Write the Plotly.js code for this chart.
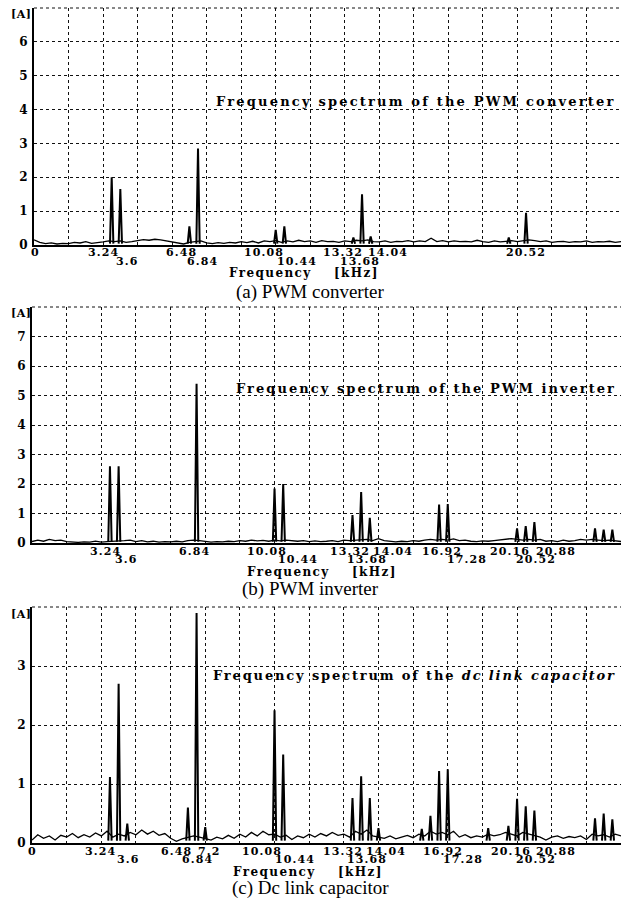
<!DOCTYPE html>
<html><head><meta charset="utf-8">
<script src="https://cdn.plot.ly/plotly-3.0.1.min.js"></script>
<style>html,body{margin:0;padding:0;background:#fff;} #chart{width:621px;height:903px;}</style>
</head><body><div id="chart"></div>
<script>
// ---------------- DATA ----------------
const noiseFreq = [
 0,0.24,0.48,0.72,0.96,1.2,1.44,1.68,1.92,2.16,
 2.4,2.64,2.88,3.12,3.36,3.6,3.84,4.08,4.32,4.56,
 4.8,5.04,5.28,5.52,5.76,6,6.24,6.48,6.72,6.96,
 7.2,7.44,7.68,7.92,8.16,8.4,8.64,8.88,9.12,9.36,
 9.6,9.84,10.08,10.32,10.56,10.8,11.04,11.28,11.52,11.76,
 12,12.24,12.48,12.72,12.96,13.2,13.44,13.68,13.92,14.16,
 14.4,14.64,14.88,15.12,15.36,15.6,15.84,16.08,16.32,16.56,
 16.8,17.04,17.28,17.52,17.76,18,18.24,18.48,18.72,18.96,
 19.2,19.44,19.68,19.92,20.16,20.4,20.64,20.88,21.12,21.36,
 21.6,21.84,22.08,22.32,22.56,22.8,23.04,23.28,23.52,23.76,
 24,24.24,24.48];

const noiseA = [
 0.15,0.08,0.04,0.06,0.03,0.05,0.04,0.08,0.06,0.10,
 0.05,0.06,0.09,0.12,0.10,0.12,0.08,0.10,0.13,0.16,
 0.14,0.17,0.15,0.12,0.09,0.04,0.03,0.08,0.10,0.12,
 0.06,0.04,0.07,0.05,0.08,0.06,0.10,0.07,0.11,0.06,
 0.12,0.10,0.13,0.08,0.12,0.09,0.14,0.10,0.12,0.08,
 0.13,0.10,0.11,0.08,0.12,0.10,0.14,0.12,0.15,0.10,
 0.09,0.12,0.08,0.11,0.10,0.13,0.09,0.12,0.10,0.20,
 0.10,0.13,0.09,0.12,0.10,0.11,0.09,0.14,0.10,0.08,
 0.12,0.09,0.11,0.13,0.10,0.12,0.15,0.13,0.10,0.12,
 0.08,0.10,0.11,0.08,0.10,0.09,0.12,0.08,0.10,0.09,
 0.11,0.08,0.10];
const noiseB = [
 0.05,0.10,0.06,0.12,0.08,0.10,0.05,0.03,0.02,0.04,
 0.03,0.06,0.03,0.05,0.06,0.05,0.08,0.10,0.05,0.08,
 0.04,0.06,0.03,0.05,0.04,0.06,0.04,0.08,0.10,0.08,
 0.05,0.03,0.05,0.04,0.06,0.05,0.08,0.06,0.10,0.07,
 0.09,0.06,0.10,0.07,0.10,0.08,0.06,0.08,0.05,0.07,
 0.05,0.06,0.08,0.05,0.10,0.08,0.10,0.10,0.12,0.08,
 0.15,0.08,0.05,0.04,0.06,0.05,0.08,0.06,0.10,0.12,
 0.10,0.12,0.10,0.14,0.08,0.10,0.06,0.05,0.07,0.06,
 0.08,0.10,0.12,0.15,0.12,0.10,0.12,0.10,0.12,0.06,
 0.08,0.05,0.10,0.06,0.08,0.12,0.10,0.12,0.10,0.08,
 0.10,0.08,0.05];
const noiseC = [
 0.05,0.14,0.08,0.12,0.05,0.13,0.10,0.16,0.09,0.14,
 0.10,0.17,0.12,0.20,0.10,0.15,0.12,0.18,0.14,0.22,
 0.15,0.20,0.13,0.16,0.08,0.03,0.07,0.10,0.12,0.10,
 0.08,0.05,0.10,0.07,0.13,0.08,0.15,0.10,0.18,0.12,
 0.20,0.14,0.15,0.10,0.13,0.06,0.12,0.09,0.15,0.10,
 0.16,0.12,0.18,0.13,0.15,0.10,0.20,0.15,0.22,0.12,
 0.10,0.08,0.12,0.07,0.10,0.13,0.09,0.15,0.12,0.20,
 0.15,0.18,0.14,0.20,0.10,0.14,0.09,0.12,0.10,0.15,
 0.12,0.14,0.18,0.15,0.12,0.18,0.15,0.12,0.10,0.05,
 0.10,0.12,0.08,0.11,0.09,0.12,0.06,0.15,0.12,0.14,
 0.10,0.15,0.12];

const peakFreqA = [3.24,3.6,6.48,6.84,10.08,10.44,13.32,13.68,14.04,19.8,20.52];
const peakAmpA  = [2.0,1.65,0.55,2.85,0.45,0.55,0.22,1.5,0.25,0.22,0.95];
const peakFreqB = [3.24,3.6,6.84,10.08,10.44,13.32,13.68,14.04,16.92,17.28,20.16,20.52,20.88,23.4,23.76,24.12];
const peakAmpB  = [2.6,2.6,5.4,1.85,2.0,0.95,1.73,0.85,1.3,1.32,0.5,0.57,0.71,0.5,0.45,0.45];
const peakFreqC = [3.24,3.6,3.96,6.48,6.84,7.2,10.08,10.44,13.32,13.68,14.04,14.4,16.2,16.56,16.92,17.28,18.96,19.8,20.16,20.52,20.88,23.4,23.76,24.12];
const peakAmpC  = [1.12,2.7,0.33,0.6,3.9,0.27,2.25,1.5,0.76,1.13,0.76,0.25,0.24,0.46,1.22,1.25,0.25,0.29,0.75,0.62,0.55,0.42,0.5,0.4];

const tickLabelsA = ['0','3.24','3.6','6.48','6.84','10.08','10.44','13.32','13.68','14.04','20.52'];
const tickRowsA   = [0,0,1,0,1,0,1,0,1,0,0];
const tickLabelsB = ['3.24','3.6','6.84','10.08','10.44','13.32','13.68','14.04','16.92','17.28','20.16','20.52','20.88'];
const tickRowsB   = [0,1,0,0,1,0,1,0,0,1,0,1,0];
const tickLabelsC = ['0','3.24','3.6','6.48','6.84','7.2','10.08','10.44','13.32','13.68','14.04','16.92','17.28','20.16','20.52','20.88'];
const tickRowsC   = [0,0,1,0,1,0,0,1,0,1,0,0,1,0,1,0];

const yMax = [7, 8, 4];
const panelTitles = ['Frequency spectrum of the PWM converter',
                     'Frequency spectrum of the PWM inverter',
                     'Frequency spectrum of the <i>dc link capacitor</i>'];
const captions = ['(a) PWM converter', '(b) PWM inverter', '(c) Dc link capacitor'];
const xTitle = 'Frequency\u00a0\u00a0\u00a0\u00a0[kHz]';
const yUnit = '[A]';
const xMax = 24.48;
const gridStep = 1.44;

// ---------------- STYLE / LAYOUT ----------------
const W = 621, H = 903;
const panels = [
  {noise: noiseA, pf: peakFreqA, pa: peakAmpA, tl: tickLabelsA, tr: tickRowsA,
   shift: [1,-8,7,-8,4,-12,13,-10,-2,17,0]},
  {noise: noiseB, pf: peakFreqB, pa: peakAmpB, tl: tickLabelsB, tr: tickRowsB,
   shift: [-4,7,-2,-8,15,-2,6,23,3,19,-7,10,22]},
  {noise: noiseC, pf: peakFreqC, pa: peakAmpC, tl: tickLabelsC, tr: tickRowsC,
   shift: [0,-9,9,-11,1,4,-13,12,-9,6,16,4,15,-6,10,22]}
];
const geo = [
  {x0:34, y0:245, top:8,   titleY:101, rows:[252,261], freqY:273, freqX:304, capY:292, aY:14,  tls:2.2},
  {x0:32, y0:543, top:307, titleY:388, rows:[551,559], freqY:572, freqX:322, capY:589, aY:313, tls:2.05},
  {x0:32, y0:843, top:607, titleY:675, rows:[851,859], freqY:872, freqX:308, capY:888, aY:614, tls:1.85}
];
const boldSerif = 'DejaVu Serif';
const ls = (t, px) => '<span style="letter-spacing:' + px + 'px"><b>' + t + '</b></span>';

const data = [];
const layout = {
  width: W, height: H, margin: {l:0, r:0, t:0, b:0},
  paper_bgcolor: '#fff', plot_bgcolor: '#fff', showlegend: false,
  annotations: [], shapes: []
};

panels.forEach((p, i) => {
  const g = geo[i];
  const xa = 'x' + (i ? i + 1 : ''), ya = 'y' + (i ? i + 1 : '');
  const xk = 'xaxis' + (i ? i + 1 : ''), yk = 'yaxis' + (i ? i + 1 : '');
  // noise line
  data.push({type:'scatter', mode:'lines', x: noiseFreq, y: p.noise, xaxis: xa, yaxis: ya,
             line:{color:'#000', width:1.3}, hoverinfo:'skip'});
  // spikes
  const sx = [], sy = [];
  p.pf.forEach((f, k) => { sx.push(f - 0.07, f, f + 0.07, null); sy.push(0.04, p.pa[k], 0.04, null); });
  data.push({type:'scatter', mode:'lines', x: sx, y: sy, xaxis: xa, yaxis: ya,
             line:{color:'#000', width:2}, hoverinfo:'skip'});

  const tv = [], tt = [];
  for (let v = 0; v <= yMax[i]; v++) { tv.push(v); tt.push(v < yMax[i] ? '<b>' + v + '</b>' : ''); }

  layout[xk] = {domain:[g.x0 / W, 1], range:[0, xMax], anchor: ya, tick0:0, dtick:gridStep,
    showticklabels:false, ticks:'', showgrid:true, griddash:'dot', gridcolor:'#111', gridwidth:1,
    showline:true, linecolor:'#000', linewidth:1.5, zeroline:false, fixedrange:true};
  layout[yk] = {domain:[1 - g.y0 / H, 1 - g.top / H], range:[0, yMax[i]], anchor: xa,
    tickmode:'array', tickvals: tv, ticktext: tt, ticks:'', ticklabelstandoff:2,
    tickfont:{family: boldSerif, size:12, color:'#000'},
    showgrid:true, griddash:'dot', gridcolor:'#111', gridwidth:1,
    showline:true, linecolor:'#000', linewidth:2, zeroline:false, fixedrange:true};

  // top dotted border
  layout.shapes.push({type:'line', xref: xa + ' domain', yref: ya + ' domain', x0:0, x1:1, y0:1, y1:1,
    line:{color:'#111', width:1, dash:'dot'}});

  // x tick labels (staggered)
  p.tl.forEach((t, k) => {
    layout.annotations.push({xref: xa, yref:'paper', x: parseFloat(t), y: 1 - g.rows[p.tr[k]] / H,
      xanchor:'center', yanchor:'middle', xshift: p.shift[k], showarrow:false,
      text: ls(t, 1.1), font:{family: boldSerif, size:11, color:'#000'}});
  });
  // x title
  layout.annotations.push({xref:'paper', yref:'paper', x: g.freqX / W, y: 1 - g.freqY / H,
    xanchor:'center', yanchor:'middle', showarrow:false,
    text: ls(xTitle, 1.4), font:{family: boldSerif, size:12, color:'#000'}});
  // in-plot title
  layout.annotations.push({xref:'paper', yref:'paper', x: 618 / W, y: 1 - g.titleY / H,
    xanchor:'right', yanchor:'middle', showarrow:false,
    text: ls(panelTitles[i], g.tls), font:{family: boldSerif, size:13, color:'#000'}});
  // unit
  layout.annotations.push({xref:'paper', yref:'paper', x: 21 / W, y: 1 - g.aY / H,
    xanchor:'center', yanchor:'middle', showarrow:false,
    text: ls(yUnit, 0.5), font:{family: boldSerif, size:11, color:'#000'}});
  // caption
  layout.annotations.push({xref:'paper', yref:'paper', x: 310 / W, y: 1 - g.capY / H,
    xanchor:'center', yanchor:'middle', showarrow:false,
    text: captions[i], font:{family:'Liberation Serif', size:19, color:'#000'}});
});

Plotly.newPlot('chart', data, layout, {staticPlot:true, displayModeBar:false});
</script></body></html>
